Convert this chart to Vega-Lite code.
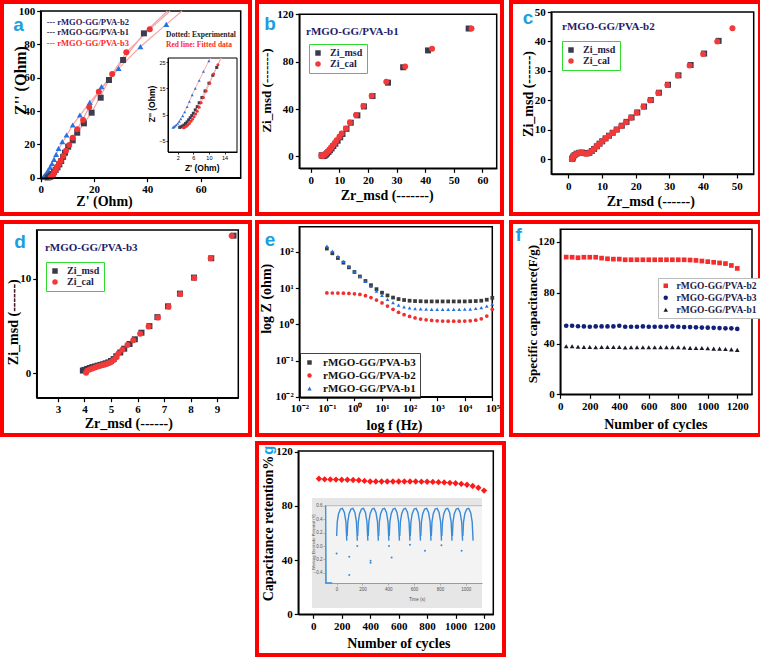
{
"$schema": "https://vega.github.io/schema/vega-lite/v6.json",
"padding": 0,
"background": "white",
"bounds": "flush",
"columns": 3,
"spacing": {"row": 8, "column": 7},
"config": {
  "view": {"stroke": null},
  "axis": {"domainColor": "#000", "domainWidth": 1.5, "tickColor": "#000", "tickWidth": 1.2, "tickSize": 4, "labelFont": "Liberation Serif", "labelFontWeight": "bold", "labelFontSize": 11, "labelColor": "#000", "labelPadding": 2, "titleFont": "Liberation Serif", "titleFontWeight": "bold", "titleFontSize": 14, "titleColor": "#000", "grid": false, "labelOverlap": false, "labelFlush": false, "titleBaseline": "middle", "titleAlign": "center"},
  "axisY": {"titleAngle": 270, "titleAlign": "center", "titleBaseline": "middle"}
},
"resolve": {"scale": {"color": "independent", "shape": "independent"}, "legend": {"color": "independent", "shape": "independent"}},
"datasets": {
  "a_main": [
    {"s":"b2","x":0.9,"y":0.2},{"s":"b2","x":1.2,"y":0.7},{"s":"b2","x":1.6,"y":1.6},{"s":"b2","x":2.2,"y":2.9},{"s":"b2","x":2.8,"y":4.4},{"s":"b2","x":3.5,"y":6.3},{"s":"b2","x":4.2,"y":8.5},{"s":"b2","x":5,"y":11},{"s":"b2","x":5.8,"y":14},{"s":"b2","x":6.7,"y":17.6},{"s":"b2","x":8.1,"y":21.6},{"s":"b2","x":9.7,"y":25.6},{"s":"b2","x":12,"y":31.6},{"s":"b2","x":14.7,"y":37.6},{"s":"b2","x":18.4,"y":45.2},{"s":"b2","x":22.8,"y":54.6},{"s":"b2","x":29.2,"y":65.6},{"s":"b2","x":37.4,"y":78.6},{"s":"b2","x":47.1,"y":92},
    {"s":"b1","x":2.6,"y":0.1},{"s":"b1","x":3.2,"y":0.6},{"s":"b1","x":3.8,"y":1.3},{"s":"b1","x":4.4,"y":2.2},{"s":"b1","x":5,"y":3.4},{"s":"b1","x":5.6,"y":4.6},{"s":"b1","x":6.3,"y":6.2},{"s":"b1","x":7,"y":8},{"s":"b1","x":7.7,"y":10},{"s":"b1","x":8.4,"y":12.5},{"s":"b1","x":9.1,"y":15},{"s":"b1","x":10.3,"y":18.6},{"s":"b1","x":12,"y":22.4},{"s":"b1","x":13.7,"y":27},{"s":"b1","x":16.2,"y":32.6},{"s":"b1","x":19.1,"y":39},{"s":"b1","x":22.5,"y":48},{"s":"b1","x":25.6,"y":58.6},{"s":"b1","x":30.9,"y":70.6},{"s":"b1","x":38.7,"y":86.6},
    {"s":"b3","x":3.8,"y":0.2},{"s":"b3","x":4.2,"y":0.7},{"s":"b3","x":4.6,"y":1.6},{"s":"b3","x":5,"y":2.8},{"s":"b3","x":5.5,"y":4.3},{"s":"b3","x":6,"y":6},{"s":"b3","x":6.8,"y":8},{"s":"b3","x":7.5,"y":10},{"s":"b3","x":8.5,"y":13},{"s":"b3","x":9.5,"y":16.2},{"s":"b3","x":10.7,"y":19.6},{"s":"b3","x":12,"y":24},{"s":"b3","x":13.7,"y":29},{"s":"b3","x":15.9,"y":34.6},{"s":"b3","x":18.2,"y":42.2},{"s":"b3","x":21.8,"y":51.6},{"s":"b3","x":26.8,"y":62.2},{"s":"b3","x":32.1,"y":75.2},{"s":"b3","x":40.9,"y":89}
  ],
  "a_fit": [
    {"s":"b2","x":0.8,"y":0},{"s":"b2","x":2,"y":2.6},{"s":"b2","x":4,"y":8},{"s":"b2","x":7,"y":18},{"s":"b2","x":12,"y":31.6},{"s":"b2","x":18.4,"y":45.2},{"s":"b2","x":29.2,"y":65.6},{"s":"b2","x":37.4,"y":78.6},{"s":"b2","x":47.1,"y":92},{"s":"b2","x":53,"y":100},
    {"s":"b1","x":2.5,"y":0},{"s":"b1","x":4,"y":1.7},{"s":"b1","x":6,"y":5.6},{"s":"b1","x":9,"y":14.5},{"s":"b1","x":13.7,"y":27},{"s":"b1","x":19.1,"y":39},{"s":"b1","x":25.6,"y":58.6},{"s":"b1","x":30.9,"y":70.6},{"s":"b1","x":38.7,"y":86.6},{"s":"b1","x":47.5,"y":100},
    {"s":"b3","x":3.7,"y":0},{"s":"b3","x":5,"y":2.8},{"s":"b3","x":7,"y":8.5},{"s":"b3","x":10,"y":17.5},{"s":"b3","x":13.7,"y":29},{"s":"b3","x":18.2,"y":42.2},{"s":"b3","x":21.8,"y":51.6},{"s":"b3","x":26.8,"y":62.2},{"s":"b3","x":32.1,"y":75.2},{"s":"b3","x":40.9,"y":89},{"s":"b3","x":48.5,"y":100}
  ],
  "a_ins": [
    {"s":"b2","x":0.8,"y":0.1},{"s":"b2","x":1,"y":0.3},{"s":"b2","x":1.3,"y":0.6},{"s":"b2","x":1.6,"y":1},{"s":"b2","x":2,"y":1.6},{"s":"b2","x":2.4,"y":2.4},{"s":"b2","x":2.8,"y":3.3},{"s":"b2","x":3.3,"y":4.5},{"s":"b2","x":3.8,"y":6},{"s":"b2","x":4.4,"y":8},{"s":"b2","x":5,"y":10},{"s":"b2","x":5.7,"y":12.5},{"s":"b2","x":6.5,"y":15},{"s":"b2","x":7.5,"y":18},{"s":"b2","x":8.6,"y":21.5},{"s":"b2","x":10,"y":25.5},
    {"s":"b1","x":2.5,"y":0.1},{"s":"b1","x":2.8,"y":0.3},{"s":"b1","x":3.2,"y":0.6},{"s":"b1","x":3.6,"y":1},{"s":"b1","x":4,"y":1.6},{"s":"b1","x":4.4,"y":2.2},{"s":"b1","x":4.8,"y":3},{"s":"b1","x":5.2,"y":3.8},{"s":"b1","x":5.6,"y":4.6},{"s":"b1","x":6,"y":5.5},{"s":"b1","x":6.5,"y":6.8},{"s":"b1","x":7,"y":8},{"s":"b1","x":7.5,"y":9.5},{"s":"b1","x":8.2,"y":11.5},{"s":"b1","x":9,"y":14},{"s":"b1","x":10,"y":17},{"s":"b1","x":11,"y":20},{"s":"b1","x":12,"y":23},
    {"s":"b3","x":3.5,"y":0},{"s":"b3","x":3.8,"y":0.2},{"s":"b3","x":4.2,"y":0.5},{"s":"b3","x":4.6,"y":1},{"s":"b3","x":5,"y":1.6},{"s":"b3","x":5.4,"y":2.4},{"s":"b3","x":5.8,"y":3.2},{"s":"b3","x":6.2,"y":4.2},{"s":"b3","x":6.6,"y":5.2},{"s":"b3","x":7,"y":6.3},{"s":"b3","x":7.5,"y":7.8},{"s":"b3","x":8,"y":9.5},{"s":"b3","x":8.6,"y":11.5},{"s":"b3","x":9.3,"y":14},{"s":"b3","x":10.2,"y":17},{"s":"b3","x":11.2,"y":20.5},{"s":"b3","x":12.3,"y":24}
  ],
  "a_insfit": [
    {"s":"b2","x":0.6,"y":0},{"s":"b2","x":2,"y":1.6},{"s":"b2","x":4,"y":6.6},{"s":"b2","x":6,"y":13.5},{"s":"b2","x":8,"y":19.6},{"s":"b2","x":10,"y":25.5},{"s":"b2","x":10.4,"y":26.6},
    {"s":"b1","x":2.3,"y":0},{"s":"b1","x":4,"y":1.6},{"s":"b1","x":6,"y":5.5},{"s":"b1","x":8,"y":11},{"s":"b1","x":10,"y":17},{"s":"b1","x":12,"y":23},{"s":"b1","x":13.1,"y":26.6},
    {"s":"b3","x":3.3,"y":0},{"s":"b3","x":5,"y":1.6},{"s":"b3","x":7,"y":6.3},{"s":"b3","x":9,"y":13},{"s":"b3","x":11,"y":19.8},{"s":"b3","x":12.3,"y":24},{"s":"b3","x":13.1,"y":26.6}
  ],
  "b": [
    {"s":"Zi_msd","x":3.8,"y":1},{"s":"Zi_msd","x":4.1,"y":0.4},{"s":"Zi_msd","x":4.5,"y":0.3},{"s":"Zi_msd","x":4.9,"y":0.8},{"s":"Zi_msd","x":5.3,"y":1.6},{"s":"Zi_msd","x":5.7,"y":2.6},{"s":"Zi_msd","x":6.2,"y":3.8},{"s":"Zi_msd","x":6.7,"y":5.2},{"s":"Zi_msd","x":7.3,"y":6.8},{"s":"Zi_msd","x":7.9,"y":8.8},{"s":"Zi_msd","x":8.6,"y":10.8},{"s":"Zi_msd","x":9.4,"y":13.3},{"s":"Zi_msd","x":10.3,"y":16.2},{"s":"Zi_msd","x":11.1,"y":19},{"s":"Zi_msd","x":12.5,"y":23.3},{"s":"Zi_msd","x":14,"y":28.5},{"s":"Zi_msd","x":16.3,"y":34.7},{"s":"Zi_msd","x":18.6,"y":42.2},{"s":"Zi_msd","x":21.6,"y":51},{"s":"Zi_msd","x":27,"y":62.3},{"s":"Zi_msd","x":32.3,"y":75.3},{"s":"Zi_msd","x":41,"y":89.5},{"s":"Zi_msd","x":55.2,"y":108},
    {"s":"Zi_cal","x":3.7,"y":0.8},{"s":"Zi_cal","x":4,"y":0.5},{"s":"Zi_cal","x":4.3,"y":0.5},{"s":"Zi_cal","x":4.6,"y":1},{"s":"Zi_cal","x":5,"y":1.8},{"s":"Zi_cal","x":5.4,"y":2.8},{"s":"Zi_cal","x":5.9,"y":4},{"s":"Zi_cal","x":6.4,"y":5.3},{"s":"Zi_cal","x":7,"y":7},{"s":"Zi_cal","x":7.6,"y":9},{"s":"Zi_cal","x":8.3,"y":11},{"s":"Zi_cal","x":9,"y":13.5},{"s":"Zi_cal","x":10,"y":16.5},{"s":"Zi_cal","x":10.8,"y":19.3},{"s":"Zi_cal","x":12.3,"y":23.5},{"s":"Zi_cal","x":13.7,"y":28.7},{"s":"Zi_cal","x":15.8,"y":34.9},{"s":"Zi_cal","x":18.4,"y":42.5},{"s":"Zi_cal","x":21.3,"y":51.3},{"s":"Zi_cal","x":26.4,"y":63},{"s":"Zi_cal","x":33,"y":76},{"s":"Zi_cal","x":42.4,"y":91},{"s":"Zi_cal","x":56.2,"y":108.1}
  ],
  "c": [
    {"s":"Zi_msd","x":1.2,"y":0.1},{"s":"Zi_msd","x":1.3,"y":0.4},{"s":"Zi_msd","x":1.5,"y":0.9},{"s":"Zi_msd","x":1.9,"y":1.4},{"s":"Zi_msd","x":2.5,"y":1.9},{"s":"Zi_msd","x":3.3,"y":2.2},{"s":"Zi_msd","x":4.1,"y":2.3},{"s":"Zi_msd","x":4.9,"y":2.1},{"s":"Zi_msd","x":5.6,"y":2},{"s":"Zi_msd","x":6.3,"y":2.2},{"s":"Zi_msd","x":7,"y":2.8},{"s":"Zi_msd","x":7.7,"y":3.5},{"s":"Zi_msd","x":8.5,"y":4.4},{"s":"Zi_msd","x":9.3,"y":5.3},{"s":"Zi_msd","x":10.1,"y":6.1},{"s":"Zi_msd","x":11.1,"y":7.1},{"s":"Zi_msd","x":12.1,"y":8},{"s":"Zi_msd","x":13.2,"y":9},{"s":"Zi_msd","x":14.4,"y":10.1},{"s":"Zi_msd","x":15.9,"y":11.4},{"s":"Zi_msd","x":17.3,"y":12.7},{"s":"Zi_msd","x":18.8,"y":14.2},{"s":"Zi_msd","x":20.5,"y":15.9},{"s":"Zi_msd","x":22.5,"y":17.9},{"s":"Zi_msd","x":24.5,"y":20.1},{"s":"Zi_msd","x":26.9,"y":22.6},{"s":"Zi_msd","x":29.6,"y":25.3},{"s":"Zi_msd","x":32.7,"y":28.5},{"s":"Zi_msd","x":36.3,"y":32},{"s":"Zi_msd","x":40.3,"y":35.9},{"s":"Zi_msd","x":44.6,"y":40.2},
    {"s":"Zi_cal","x":1.1,"y":0},{"s":"Zi_cal","x":1.2,"y":0.3},{"s":"Zi_cal","x":1.4,"y":0.8},{"s":"Zi_cal","x":1.8,"y":1.3},{"s":"Zi_cal","x":2.4,"y":1.8},{"s":"Zi_cal","x":3.2,"y":2.1},{"s":"Zi_cal","x":4,"y":2.2},{"s":"Zi_cal","x":4.8,"y":2},{"s":"Zi_cal","x":5.5,"y":1.9},{"s":"Zi_cal","x":6.2,"y":2.1},{"s":"Zi_cal","x":6.9,"y":2.7},{"s":"Zi_cal","x":7.6,"y":3.4},{"s":"Zi_cal","x":8.4,"y":4.3},{"s":"Zi_cal","x":9.2,"y":5.2},{"s":"Zi_cal","x":10,"y":6},{"s":"Zi_cal","x":11,"y":7},{"s":"Zi_cal","x":12,"y":7.9},{"s":"Zi_cal","x":13.1,"y":8.9},{"s":"Zi_cal","x":14.3,"y":10},{"s":"Zi_cal","x":15.7,"y":11.3},{"s":"Zi_cal","x":17.1,"y":12.6},{"s":"Zi_cal","x":18.6,"y":14.1},{"s":"Zi_cal","x":20.3,"y":15.8},{"s":"Zi_cal","x":22.3,"y":17.8},{"s":"Zi_cal","x":24.3,"y":20},{"s":"Zi_cal","x":26.7,"y":22.5},{"s":"Zi_cal","x":29.4,"y":25.2},{"s":"Zi_cal","x":32.5,"y":28.4},{"s":"Zi_cal","x":36,"y":31.8},{"s":"Zi_cal","x":40,"y":35.7},{"s":"Zi_cal","x":44.2,"y":40},{"s":"Zi_cal","x":48.7,"y":44.5}
  ],
  "d": [
    {"s":"Zi_msd","x":3.94,"y":0.28},{"s":"Zi_msd","x":4.0,"y":0.35},{"s":"Zi_msd","x":4.1,"y":0.45},{"s":"Zi_msd","x":4.2,"y":0.55},{"s":"Zi_msd","x":4.3,"y":0.65},{"s":"Zi_msd","x":4.4,"y":0.72},{"s":"Zi_msd","x":4.5,"y":0.8},{"s":"Zi_msd","x":4.6,"y":0.88},{"s":"Zi_msd","x":4.7,"y":0.95},{"s":"Zi_msd","x":4.8,"y":1.05},{"s":"Zi_msd","x":4.9,"y":1.15},{"s":"Zi_msd","x":5.0,"y":1.3},{"s":"Zi_msd","x":5.1,"y":1.5},{"s":"Zi_msd","x":5.2,"y":1.8},{"s":"Zi_msd","x":5.35,"y":2.2},{"s":"Zi_msd","x":5.5,"y":2.6},{"s":"Zi_msd","x":5.7,"y":3.1},{"s":"Zi_msd","x":5.9,"y":3.6},{"s":"Zi_msd","x":6.15,"y":4.3},{"s":"Zi_msd","x":6.45,"y":5.0},{"s":"Zi_msd","x":6.75,"y":5.95},{"s":"Zi_msd","x":7.15,"y":7.1},{"s":"Zi_msd","x":7.6,"y":8.45},{"s":"Zi_msd","x":8.13,"y":10.15},{"s":"Zi_msd","x":8.78,"y":12.2},{"s":"Zi_msd","x":9.62,"y":14.6},
    {"s":"Zi_cal","x":4.06,"y":0.05},{"s":"Zi_cal","x":4.1,"y":0.25},{"s":"Zi_cal","x":4.2,"y":0.4},{"s":"Zi_cal","x":4.3,"y":0.5},{"s":"Zi_cal","x":4.4,"y":0.6},{"s":"Zi_cal","x":4.5,"y":0.7},{"s":"Zi_cal","x":4.6,"y":0.78},{"s":"Zi_cal","x":4.7,"y":0.86},{"s":"Zi_cal","x":4.8,"y":0.95},{"s":"Zi_cal","x":4.9,"y":1.05},{"s":"Zi_cal","x":5.0,"y":1.2},{"s":"Zi_cal","x":5.1,"y":1.4},{"s":"Zi_cal","x":5.2,"y":1.7},{"s":"Zi_cal","x":5.28,"y":2.1},{"s":"Zi_cal","x":5.43,"y":2.5},{"s":"Zi_cal","x":5.62,"y":3},{"s":"Zi_cal","x":5.84,"y":3.5},{"s":"Zi_cal","x":6.1,"y":4.2},{"s":"Zi_cal","x":6.42,"y":4.96},{"s":"Zi_cal","x":6.77,"y":5.9},{"s":"Zi_cal","x":7.17,"y":7.05},{"s":"Zi_cal","x":7.61,"y":8.4},{"s":"Zi_cal","x":8.14,"y":10.1},{"s":"Zi_cal","x":8.76,"y":12.2},{"s":"Zi_cal","x":9.55,"y":14.6}
  ],
  "e": [
    {"s":"b3","x":0.1,"y":124.1},{"s":"b3","x":0.158,"y":92.1},{"s":"b3","x":0.251,"y":68.1},{"s":"b3","x":0.398,"y":50.6},{"s":"b3","x":0.631,"y":37.6},{"s":"b3","x":1,"y":28},{"s":"b3","x":1.58,"y":21},{"s":"b3","x":2.51,"y":15.8},{"s":"b3","x":3.98,"y":12.1},{"s":"b3","x":6.31,"y":9.4},{"s":"b3","x":10,"y":7.5},{"s":"b3","x":15.8,"y":6.3},{"s":"b3","x":25.1,"y":5.5},{"s":"b3","x":39.8,"y":5},{"s":"b3","x":63.1,"y":4.7},{"s":"b3","x":100,"y":4.5},{"s":"b3","x":158,"y":4.4},{"s":"b3","x":251,"y":4.35},{"s":"b3","x":398,"y":4.3},{"s":"b3","x":631,"y":4.3},{"s":"b3","x":1000,"y":4.3},{"s":"b3","x":1580,"y":4.3},{"s":"b3","x":2510,"y":4.3},{"s":"b3","x":3980,"y":4.3},{"s":"b3","x":6310,"y":4.3},{"s":"b3","x":10000,"y":4.3},{"s":"b3","x":15800,"y":4.35},{"s":"b3","x":25100,"y":4.4},{"s":"b3","x":39800,"y":4.5},{"s":"b3","x":63100,"y":4.8},{"s":"b3","x":100000,"y":5.4},
    {"s":"b2","x":0.1,"y":7.4},{"s":"b2","x":0.158,"y":7.35},{"s":"b2","x":0.251,"y":7.3},{"s":"b2","x":0.398,"y":7.25},{"s":"b2","x":0.631,"y":7.15},{"s":"b2","x":1,"y":7},{"s":"b2","x":1.58,"y":6.7},{"s":"b2","x":2.51,"y":6.2},{"s":"b2","x":3.98,"y":5.5},{"s":"b2","x":6.31,"y":4.7},{"s":"b2","x":10,"y":3.9},{"s":"b2","x":15.8,"y":3.2},{"s":"b2","x":25.1,"y":2.6},{"s":"b2","x":39.8,"y":2.15},{"s":"b2","x":63.1,"y":1.85},{"s":"b2","x":100,"y":1.65},{"s":"b2","x":158,"y":1.5},{"s":"b2","x":251,"y":1.4},{"s":"b2","x":398,"y":1.33},{"s":"b2","x":631,"y":1.28},{"s":"b2","x":1000,"y":1.25},{"s":"b2","x":1580,"y":1.23},{"s":"b2","x":2510,"y":1.22},{"s":"b2","x":3980,"y":1.22},{"s":"b2","x":6310,"y":1.22},{"s":"b2","x":10000,"y":1.23},{"s":"b2","x":15800,"y":1.25},{"s":"b2","x":25100,"y":1.3},{"s":"b2","x":39800,"y":1.42},{"s":"b2","x":63100,"y":1.7},{"s":"b2","x":100000,"y":2.6},
    {"s":"b1","x":0.1,"y":145},{"s":"b1","x":0.158,"y":105},{"s":"b1","x":0.251,"y":76},{"s":"b1","x":0.398,"y":55.1},{"s":"b1","x":0.631,"y":39.9},{"s":"b1","x":1,"y":28.9},{"s":"b1","x":1.58,"y":21.1},{"s":"b1","x":2.51,"y":15.3},{"s":"b1","x":3.98,"y":11.2},{"s":"b1","x":6.31,"y":8.3},{"s":"b1","x":10,"y":6.3},{"s":"b1","x":15.8,"y":4.9},{"s":"b1","x":25.1,"y":4},{"s":"b1","x":39.8,"y":3.4},{"s":"b1","x":63.1,"y":3.06},{"s":"b1","x":100,"y":2.84},{"s":"b1","x":158,"y":2.73},{"s":"b1","x":251,"y":2.67},{"s":"b1","x":398,"y":2.63},{"s":"b1","x":631,"y":2.61},{"s":"b1","x":1000,"y":2.6},{"s":"b1","x":1580,"y":2.6},{"s":"b1","x":2510,"y":2.6},{"s":"b1","x":3980,"y":2.6},{"s":"b1","x":6310,"y":2.6},{"s":"b1","x":10000,"y":2.62},{"s":"b1","x":15800,"y":2.65},{"s":"b1","x":25100,"y":2.75},{"s":"b1","x":39800,"y":2.9},{"s":"b1","x":63100,"y":3.2},{"s":"b1","x":100000,"y":3.6}
  ],
  "f": [
    {"s":"b2","x":40,"y":108.1},{"s":"b2","x":80,"y":108},{"s":"b2","x":120,"y":107.6},{"s":"b2","x":160,"y":108},{"s":"b2","x":200,"y":108},{"s":"b2","x":240,"y":108},{"s":"b2","x":280,"y":107.3},{"s":"b2","x":320,"y":106.8},{"s":"b2","x":360,"y":106.5},{"s":"b2","x":400,"y":106.5},{"s":"b2","x":440,"y":106},{"s":"b2","x":480,"y":106},{"s":"b2","x":520,"y":106},{"s":"b2","x":560,"y":106},{"s":"b2","x":600,"y":106},{"s":"b2","x":640,"y":106},{"s":"b2","x":680,"y":106},{"s":"b2","x":720,"y":106},{"s":"b2","x":760,"y":106},{"s":"b2","x":800,"y":106},{"s":"b2","x":840,"y":106},{"s":"b2","x":880,"y":105.8},{"s":"b2","x":920,"y":105.5},{"s":"b2","x":960,"y":105},{"s":"b2","x":1000,"y":104.5},{"s":"b2","x":1040,"y":104},{"s":"b2","x":1080,"y":103.5},{"s":"b2","x":1120,"y":103},{"s":"b2","x":1160,"y":101.5},{"s":"b2","x":1200,"y":99.2},
    {"s":"b3","x":40,"y":54},{"s":"b3","x":80,"y":54},{"s":"b3","x":120,"y":53.6},{"s":"b3","x":160,"y":53.5},{"s":"b3","x":200,"y":53.2},{"s":"b3","x":240,"y":53.5},{"s":"b3","x":280,"y":53.5},{"s":"b3","x":320,"y":53.5},{"s":"b3","x":360,"y":53.5},{"s":"b3","x":400,"y":54},{"s":"b3","x":440,"y":53.2},{"s":"b3","x":480,"y":53.2},{"s":"b3","x":520,"y":53.2},{"s":"b3","x":560,"y":53.5},{"s":"b3","x":600,"y":53.2},{"s":"b3","x":640,"y":53.2},{"s":"b3","x":680,"y":53.2},{"s":"b3","x":720,"y":53.2},{"s":"b3","x":760,"y":53.5},{"s":"b3","x":800,"y":53.2},{"s":"b3","x":840,"y":53},{"s":"b3","x":880,"y":53},{"s":"b3","x":920,"y":52.8},{"s":"b3","x":960,"y":52.6},{"s":"b3","x":1000,"y":52.5},{"s":"b3","x":1040,"y":52.4},{"s":"b3","x":1080,"y":52.2},{"s":"b3","x":1120,"y":52},{"s":"b3","x":1160,"y":52},{"s":"b3","x":1200,"y":51.5},
    {"s":"b1","x":40,"y":37.8},{"s":"b1","x":80,"y":37.8},{"s":"b1","x":120,"y":37.4},{"s":"b1","x":160,"y":37.2},{"s":"b1","x":200,"y":37.2},{"s":"b1","x":240,"y":37},{"s":"b1","x":280,"y":37.2},{"s":"b1","x":320,"y":37.2},{"s":"b1","x":360,"y":37.2},{"s":"b1","x":400,"y":37.2},{"s":"b1","x":440,"y":36.8},{"s":"b1","x":480,"y":37},{"s":"b1","x":520,"y":37},{"s":"b1","x":560,"y":37},{"s":"b1","x":600,"y":37},{"s":"b1","x":640,"y":37},{"s":"b1","x":680,"y":37},{"s":"b1","x":720,"y":37},{"s":"b1","x":760,"y":37},{"s":"b1","x":800,"y":37},{"s":"b1","x":840,"y":36.8},{"s":"b1","x":880,"y":36.6},{"s":"b1","x":920,"y":36.5},{"s":"b1","x":960,"y":36.5},{"s":"b1","x":1000,"y":36.3},{"s":"b1","x":1040,"y":36},{"s":"b1","x":1080,"y":36},{"s":"b1","x":1120,"y":35.7},{"s":"b1","x":1160,"y":35.4},{"s":"b1","x":1200,"y":35}
  ],
  "g": [
    {"x":40,"y":100},{"x":80,"y":99.6},{"x":120,"y":99.5},{"x":160,"y":99.4},{"x":200,"y":99.3},{"x":240,"y":99.3},{"x":280,"y":99.1},{"x":320,"y":98.9},{"x":360,"y":98.4},{"x":400,"y":98},{"x":440,"y":98},{"x":480,"y":98},{"x":520,"y":98},{"x":560,"y":98},{"x":600,"y":98},{"x":640,"y":98},{"x":680,"y":98},{"x":720,"y":98},{"x":760,"y":97.9},{"x":800,"y":97.8},{"x":840,"y":97.7},{"x":880,"y":97.5},{"x":920,"y":97.3},{"x":960,"y":97},{"x":1000,"y":96.7},{"x":1040,"y":96.2},{"x":1080,"y":95.6},{"x":1120,"y":94.7},{"x":1160,"y":93.4},{"x":1200,"y":91.3}
  ],
  "g_ins": [
    {"k":-1,"x":-85,"y":0.6},{"k":-1,"x":-84,"y":0.2},{"k":-1,"x":-83,"y":-0.2},{"k":-1,"x":-82,"y":-0.55},{"k":-1,"x":-34,"y":-0.55},
    {"k":0,"x":0,"y":0.15},{"k":0,"x":5,"y":0.36},{"k":0,"x":15,"y":0.48},{"k":0,"x":30,"y":0.55},{"k":0,"x":45,"y":0.56},{"k":0,"x":60,"y":0.5},{"k":0,"x":72,"y":0.36},{"k":0,"x":79,"y":0.08},
    {"k":1,"x":81.5,"y":0.15},{"k":1,"x":86.5,"y":0.36},{"k":1,"x":96.5,"y":0.48},{"k":1,"x":111.5,"y":0.55},{"k":1,"x":126.5,"y":0.56},{"k":1,"x":141.5,"y":0.5},{"k":1,"x":153.5,"y":0.36},{"k":1,"x":160.5,"y":0.08},
    {"k":2,"x":163,"y":0.15},{"k":2,"x":168,"y":0.36},{"k":2,"x":178,"y":0.48},{"k":2,"x":193,"y":0.55},{"k":2,"x":208,"y":0.56},{"k":2,"x":223,"y":0.5},{"k":2,"x":235,"y":0.36},{"k":2,"x":242,"y":0.08},
    {"k":3,"x":244.5,"y":0.15},{"k":3,"x":249.5,"y":0.36},{"k":3,"x":259.5,"y":0.48},{"k":3,"x":274.5,"y":0.55},{"k":3,"x":289.5,"y":0.56},{"k":3,"x":304.5,"y":0.5},{"k":3,"x":316.5,"y":0.36},{"k":3,"x":323.5,"y":0.08},
    {"k":4,"x":326,"y":0.15},{"k":4,"x":331,"y":0.36},{"k":4,"x":341,"y":0.48},{"k":4,"x":356,"y":0.55},{"k":4,"x":371,"y":0.56},{"k":4,"x":386,"y":0.5},{"k":4,"x":398,"y":0.36},{"k":4,"x":405,"y":0.08},
    {"k":5,"x":407.5,"y":0.15},{"k":5,"x":412.5,"y":0.36},{"k":5,"x":422.5,"y":0.48},{"k":5,"x":437.5,"y":0.55},{"k":5,"x":452.5,"y":0.56},{"k":5,"x":467.5,"y":0.5},{"k":5,"x":479.5,"y":0.36},{"k":5,"x":486.5,"y":0.08},
    {"k":6,"x":489,"y":0.15},{"k":6,"x":494,"y":0.36},{"k":6,"x":504,"y":0.48},{"k":6,"x":519,"y":0.55},{"k":6,"x":534,"y":0.56},{"k":6,"x":549,"y":0.5},{"k":6,"x":561,"y":0.36},{"k":6,"x":568,"y":0.08},
    {"k":7,"x":570.5,"y":0.15},{"k":7,"x":575.5,"y":0.36},{"k":7,"x":585.5,"y":0.48},{"k":7,"x":600.5,"y":0.55},{"k":7,"x":615.5,"y":0.56},{"k":7,"x":630.5,"y":0.5},{"k":7,"x":642.5,"y":0.36},{"k":7,"x":649.5,"y":0.08},
    {"k":8,"x":652,"y":0.15},{"k":8,"x":657,"y":0.36},{"k":8,"x":667,"y":0.48},{"k":8,"x":682,"y":0.55},{"k":8,"x":697,"y":0.56},{"k":8,"x":712,"y":0.5},{"k":8,"x":724,"y":0.36},{"k":8,"x":731,"y":0.08},
    {"k":9,"x":733.5,"y":0.15},{"k":9,"x":738.5,"y":0.36},{"k":9,"x":748.5,"y":0.48},{"k":9,"x":763.5,"y":0.55},{"k":9,"x":778.5,"y":0.56},{"k":9,"x":793.5,"y":0.5},{"k":9,"x":805.5,"y":0.36},{"k":9,"x":812.5,"y":0.08},
    {"k":10,"x":815,"y":0.15},{"k":10,"x":820,"y":0.36},{"k":10,"x":830,"y":0.48},{"k":10,"x":845,"y":0.55},{"k":10,"x":860,"y":0.56},{"k":10,"x":875,"y":0.5},{"k":10,"x":887,"y":0.36},{"k":10,"x":894,"y":0.08},
    {"k":11,"x":896.5,"y":0.15},{"k":11,"x":901.5,"y":0.36},{"k":11,"x":911.5,"y":0.48},{"k":11,"x":926.5,"y":0.55},{"k":11,"x":941.5,"y":0.56},{"k":11,"x":956.5,"y":0.5},{"k":11,"x":968.5,"y":0.36},{"k":11,"x":975.5,"y":0.08},
    {"k":12,"x":978,"y":0.15},{"k":12,"x":983,"y":0.36},{"k":12,"x":993,"y":0.48},{"k":12,"x":1008,"y":0.55},{"k":12,"x":1023,"y":0.56},{"k":12,"x":1038,"y":0.5},{"k":12,"x":1050,"y":0.36},{"k":12,"x":1057,"y":0.08}
  ],
  "g_stray": [
    {"x":0,"y":-0.11},{"x":98,"y":-0.16},{"x":98,"y":-0.43},{"x":263,"y":-0.22},{"x":263,"y":-0.25},{"x":426,"y":-0.17},{"x":684,"y":-0.07},{"x":968,"y":-0.07},{"x":160,"y":0.0},{"x":405,"y":0.0},{"x":568,"y":0.02},{"x":812,"y":0.01}
  ]
},
"concat": [
  {"width": 248, "height": 212,
   "view": {"stroke": "#ff0000", "strokeWidth": 4},
   "resolve": {"scale": {"x": "independent", "y": "independent"}},
   "layer": [
    {"layer": [
      {"data": {"values": [{}]}, "mark": {"type": "rect", "fill": "transparent", "stroke": "#000", "strokeWidth": 1.5},
       "encoding": {
        "x": {"datum": 0, "type": "quantitative", "scale": {"domain": [0, 75], "range": [38.7, 238.7], "nice": false, "zero": false},
              "axis": {"zindex": 1, "orient": "bottom", "offset": -36.3, "values": [0, 20, 40, 60], "title": "Z' (Ohm)", "titleX": 102, "titleY": 24}},
        "x2": {"datum": 75},
        "y": {"datum": 0, "type": "quantitative", "scale": {"domain": [0, 100], "range": [175.7, 9], "nice": false, "zero": false},
              "axis": {"zindex": 1, "orient": "left", "offset": -38.7, "values": [0, 20, 40, 60, 80, 100], "title": "Z'' (Ohm)", "titleX": -20.7, "titleY": 78, "titleAlign": "center", "titleAngle": 270, "titleFontSize": 16}},
        "y2": {"datum": 100}}},
      {"data": {"name": "a_fit"}, "mark": {"type": "line", "color": "#f5a3a3", "strokeWidth": 1.2},
       "encoding": {"x": {"field": "x", "type": "quantitative"}, "y": {"field": "y", "type": "quantitative"}, "detail": {"field": "s"}}},
      {"data": {"name": "a_main"}, "mark": {"type": "point", "filled": true, "size": 36, "opacity": 1},
       "encoding": {"x": {"field": "x", "type": "quantitative"}, "y": {"field": "y", "type": "quantitative"},
        "color": {"field": "s", "type": "nominal", "scale": {"domain": ["b2", "b1", "b3"], "range": ["#2a72e0", "#3c3c4c", "#f03232"]}, "legend": null},
        "shape": {"field": "s", "type": "nominal", "scale": {"domain": ["b2", "b1", "b3"], "range": ["triangle-up", "square", "circle"]}, "legend": null}}},
      {"data": {"values": [{}]}, "mark": {"type": "text", "text": "a", "font": "Liberation Sans", "fontWeight": "bold", "fontSize": 19, "color": "#1a9fe0", "align": "center", "baseline": "middle"},
       "encoding": {"x": {"datum": -8.3, "type": "quantitative"}, "y": {"datum": 91.6, "type": "quantitative"}}},
      {"data": {"values": [{}]}, "mark": {"type": "text", "text": "--- rMGO-GG/PVA-b2", "font": "Liberation Serif", "fontWeight": "bold", "fontSize": 8.5, "color": "#22226a", "align": "left", "baseline": "middle"},
       "encoding": {"x": {"datum": 2.25, "type": "quantitative"}, "y": {"datum": 93.6, "type": "quantitative"}}},
      {"data": {"values": [{}]}, "mark": {"type": "text", "text": "--- rMGO-GG/PVA-b1", "font": "Liberation Serif", "fontWeight": "bold", "fontSize": 8.5, "color": "#22224a", "align": "left", "baseline": "middle"},
       "encoding": {"x": {"datum": 2.25, "type": "quantitative"}, "y": {"datum": 87.2, "type": "quantitative"}}},
      {"data": {"values": [{}]}, "mark": {"type": "text", "text": "--- rMGO-GG/PVA-b3", "font": "Liberation Serif", "fontWeight": "bold", "fontSize": 8.5, "color": "#ff2a2a", "align": "left", "baseline": "middle"},
       "encoding": {"x": {"datum": 2.25, "type": "quantitative"}, "y": {"datum": 81, "type": "quantitative"}}},
      {"data": {"values": [{}]}, "mark": {"type": "text", "text": "Dotted: Experimental", "font": "Liberation Serif", "fontWeight": "bold", "fontSize": 7.5, "color": "#222222", "align": "left", "baseline": "middle"},
       "encoding": {"x": {"datum": 47, "type": "quantitative"}, "y": {"datum": 85.6, "type": "quantitative"}}},
      {"data": {"values": [{}]}, "mark": {"type": "text", "text": "Red line: Fitted data", "font": "Liberation Serif", "fontWeight": "bold", "fontSize": 7.5, "color": "#ff2a2a", "align": "left", "baseline": "middle"},
       "encoding": {"x": {"datum": 47, "type": "quantitative"}, "y": {"datum": 79.6, "type": "quantitative"}}}
    ]},
    {"layer": [
      {"data": {"values": [{}]}, "mark": {"type": "rect", "fill": "transparent", "stroke": "#000", "strokeWidth": 1},
       "encoding": {
        "x": {"datum": -0.5, "type": "quantitative", "scale": {"domain": [-0.5, 17.2], "range": [166, 235], "nice": false, "zero": false},
              "axis": {"zindex": 1, "orient": "bottom", "offset": -62, "values": [2, 4, 6, 8, 10, 12, 14, 16], "labelFont": "Liberation Sans", "labelFontWeight": "normal", "labelFontSize": 5.5, "tickSize": 2, "tickWidth": 0.8, "domainWidth": 1, "labelPadding": 1, "title": "Z' (Ohm)", "titleFont": "Liberation Sans", "titleFontSize": 8.5, "titleX": 199.7, "titleY": 15}},
        "x2": {"datum": 17.2},
        "y": {"datum": -9.3, "type": "quantitative", "scale": {"domain": [-9.3, 26.6], "range": [150, 56], "nice": false, "zero": false},
              "axis": {"zindex": 1, "orient": "left", "offset": -166, "values": [-5, 0, 5, 10, 15, 20, 25], "labelFont": "Liberation Sans", "labelFontWeight": "normal", "labelFontSize": 5.5, "tickSize": 2, "tickWidth": 0.8, "domainWidth": 1, "labelPadding": 1, "title": "Z'' (Ohm)", "titleFont": "Liberation Sans", "titleFontSize": 8.5, "titleX": -16.3, "titleY": 101.5, "titleAlign": "center", "titleAngle": 270}},
        "y2": {"datum": 26.6}}},
      {"data": {"name": "a_insfit"}, "mark": {"type": "line", "color": "#f7b0b0", "strokeWidth": 1},
       "encoding": {"x": {"field": "x", "type": "quantitative"}, "y": {"field": "y", "type": "quantitative"}, "detail": {"field": "s"}}},
      {"data": {"name": "a_ins"}, "mark": {"type": "point", "filled": true, "size": 9, "opacity": 1},
       "encoding": {"x": {"field": "x", "type": "quantitative"}, "y": {"field": "y", "type": "quantitative"},
        "color": {"field": "s", "type": "nominal", "scale": {"domain": ["b2", "b1", "b3"], "range": ["#2a72e0", "#3c3c4c", "#f03232"]}, "legend": null},
        "shape": {"field": "s", "type": "nominal", "scale": {"domain": ["b2", "b1", "b3"], "range": ["triangle-up", "square", "circle"]}, "legend": null}}}
    ]}
   ]},
  {"width": 245, "height": 212,
   "view": {"stroke": "#ff0000", "strokeWidth": 4},
   "layer": [
    {"data": {"values": [{}]}, "mark": {"type": "rect", "fill": "transparent", "stroke": "#000", "strokeWidth": 1.5},
     "encoding": {
      "x": {"datum": -4, "type": "quantitative", "scale": {"domain": [-4, 65], "range": [42.3, 239.7], "nice": false, "zero": false},
            "axis": {"zindex": 1, "orient": "bottom", "offset": -45.7, "values": [0, 10, 20, 30, 40, 50, 60], "title": "Zr_msd (-------)", "titleX": 129.7, "titleY": 26.7}},
      "x2": {"datum": 65},
      "y": {"datum": -10, "type": "quantitative", "scale": {"domain": [-10, 120], "range": [166.3, 12.3], "nice": false, "zero": false},
            "axis": {"zindex": 1, "orient": "left", "offset": -42.3, "values": [0, 20, 40, 60, 80, 100, 120], "title": "Zi_msd (-------)", "titleX": -32.6, "titleY": 88, "titleAlign": "center", "titleAngle": 270, "titleFontSize": 13}},
      "y2": {"datum": 120}}},
    {"data": {"name": "b"}, "mark": {"type": "point", "filled": true, "size": 36, "opacity": 1},
     "encoding": {"x": {"field": "x", "type": "quantitative"}, "y": {"field": "y", "type": "quantitative"},
      "color": {"field": "s", "type": "nominal", "scale": {"domain": ["Zi_msd", "Zi_cal"], "range": ["#3a3a4e", "#f23a3a"]},
        "legend": {"orient": "none", "legendX": 52, "legendY": 42, "title": null, "strokeColor": "#2edb2e", "padding": 4, "labelFont": "Liberation Serif", "labelFontWeight": "bold", "labelFontSize": 10, "labelColor": "#1c1c4c", "symbolSize": 30, "rowPadding": 1, "fillColor": "white", "labelOffset": 7}},
      "shape": {"field": "s", "type": "nominal", "scale": {"domain": ["Zi_msd", "Zi_cal"], "range": ["square", "circle"]},
        "legend": {"orient": "none", "legendX": 52, "legendY": 42, "title": null, "strokeColor": "#2edb2e", "padding": 4, "labelFont": "Liberation Serif", "labelFontWeight": "bold", "labelFontSize": 10, "labelColor": "#1c1c4c", "symbolSize": 30, "rowPadding": 1, "fillColor": "white", "labelOffset": 7}}}},
    {"data": {"values": [{}]}, "mark": {"type": "text", "text": "rMGO-GG/PVA-b1", "font": "Liberation Serif", "fontWeight": "bold", "fontSize": 11, "color": "#1c1c6c", "align": "left", "baseline": "middle"},
     "encoding": {"x": {"datum": -1.66, "type": "quantitative"}, "y": {"datum": 105.1, "type": "quantitative"}}},
    {"data": {"values": [{}]}, "mark": {"type": "text", "text": "b", "font": "Liberation Sans", "fontWeight": "bold", "fontSize": 19, "color": "#1a9fe0", "align": "center", "baseline": "middle"},
     "encoding": {"x": {"datum": -14.2, "type": "quantitative"}, "y": {"datum": 111.8, "type": "quantitative"}}}
   ]},
  {"width": 249, "height": 212,
   "view": {"stroke": "#ff0000", "strokeWidth": 4},
   "layer": [
    {"data": {"values": [{}]}, "mark": {"type": "rect", "fill": "transparent", "stroke": "#000", "strokeWidth": 1.5},
     "encoding": {
      "x": {"datum": -5, "type": "quantitative", "scale": {"domain": [-5, 55], "range": [40.3, 242.7], "nice": false, "zero": false},
            "axis": {"zindex": 1, "orient": "bottom", "offset": -40, "values": [0, 10, 20, 30, 40, 50], "title": "Zr_msd (------)", "titleX": 139.3, "titleY": 27.7}},
      "x2": {"datum": 55},
      "y": {"datum": -5, "type": "quantitative", "scale": {"domain": [-5, 50], "range": [172, 10], "nice": false, "zero": false},
            "axis": {"zindex": 1, "orient": "left", "offset": -40.3, "values": [0, 10, 20, 30, 40, 50], "title": "Zi_msd (------)", "titleX": -23.3, "titleY": 91.5, "titleAlign": "center", "titleAngle": 270}},
      "y2": {"datum": 50}}},
    {"data": {"name": "c"}, "mark": {"type": "point", "filled": true, "size": 36, "opacity": 1},
     "encoding": {"x": {"field": "x", "type": "quantitative"}, "y": {"field": "y", "type": "quantitative"},
      "color": {"field": "s", "type": "nominal", "scale": {"domain": ["Zi_msd", "Zi_cal"], "range": ["#3a3a4e", "#f23a3a"]},
        "legend": {"orient": "none", "legendX": 51, "legendY": 39, "title": null, "strokeColor": "#2edb2e", "padding": 4, "labelFont": "Liberation Serif", "labelFontWeight": "bold", "labelFontSize": 10, "labelColor": "#1c1c4c", "symbolSize": 30, "rowPadding": 1, "fillColor": "white", "labelOffset": 7}},
      "shape": {"field": "s", "type": "nominal", "scale": {"domain": ["Zi_msd", "Zi_cal"], "range": ["square", "circle"]},
        "legend": {"orient": "none", "legendX": 51, "legendY": 39, "title": null, "strokeColor": "#2edb2e", "padding": 4, "labelFont": "Liberation Serif", "labelFontWeight": "bold", "labelFontSize": 10, "labelColor": "#1c1c4c", "symbolSize": 30, "rowPadding": 1, "fillColor": "white", "labelOffset": 7}}}},
    {"data": {"values": [{}]}, "mark": {"type": "text", "text": "rMGO-GG/PVA-b2", "font": "Liberation Serif", "fontWeight": "bold", "fontSize": 11, "color": "#1c1c6c", "align": "left", "baseline": "middle"},
     "encoding": {"x": {"datum": -1.83, "type": "quantitative"}, "y": {"datum": 44.9, "type": "quantitative"}}},
    {"data": {"values": [{}]}, "mark": {"type": "text", "text": "c", "font": "Liberation Sans", "fontWeight": "bold", "fontSize": 19, "color": "#1a9fe0", "align": "center", "baseline": "middle"},
     "encoding": {"x": {"datum": -11.9, "type": "quantitative"}, "y": {"datum": 48, "type": "quantitative"}}}
   ]},
  {"width": 248, "height": 213,
   "view": {"stroke": "#ff0000", "strokeWidth": 4},
   "layer": [
    {"data": {"values": [{}]}, "mark": {"type": "rect", "fill": "transparent", "stroke": "#000", "strokeWidth": 1.5},
     "encoding": {
      "x": {"datum": 2.2, "type": "quantitative", "scale": {"domain": [2.2, 9.8], "range": [34.7, 236.3], "nice": false, "zero": false},
            "axis": {"zindex": 1, "orient": "bottom", "offset": -37.3, "values": [3, 4, 5, 6, 7, 8, 9], "title": "Zr_msd (------)", "titleX": 126.3, "titleY": 25.6}},
      "x2": {"datum": 9.8},
      "y": {"datum": -2.6, "type": "quantitative", "scale": {"domain": [-2.6, 15.2], "range": [175.7, 8], "nice": false, "zero": false},
            "axis": {"zindex": 1, "orient": "left", "offset": -34.7, "values": [0, 10], "title": "Zi_msd (------)", "titleX": -23.4, "titleY": 99.7, "titleAlign": "center", "titleAngle": 270}},
      "y2": {"datum": 15.2}}},
    {"data": {"name": "d"}, "mark": {"type": "point", "filled": true, "size": 36, "opacity": 1},
     "encoding": {"x": {"field": "x", "type": "quantitative"}, "y": {"field": "y", "type": "quantitative"},
      "color": {"field": "s", "type": "nominal", "scale": {"domain": ["Zi_msd", "Zi_cal"], "range": ["#3a3a4e", "#f23a3a"]},
        "legend": {"orient": "none", "legendX": 44, "legendY": 40, "title": null, "strokeColor": "#2edb2e", "padding": 4, "labelFont": "Liberation Serif", "labelFontWeight": "bold", "labelFontSize": 10, "labelColor": "#1c1c4c", "symbolSize": 30, "rowPadding": 1, "fillColor": "white", "labelOffset": 7}},
      "shape": {"field": "s", "type": "nominal", "scale": {"domain": ["Zi_msd", "Zi_cal"], "range": ["square", "circle"]},
        "legend": {"orient": "none", "legendX": 44, "legendY": 40, "title": null, "strokeColor": "#2edb2e", "padding": 4, "labelFont": "Liberation Serif", "labelFontWeight": "bold", "labelFontSize": 10, "labelColor": "#1c1c4c", "symbolSize": 30, "rowPadding": 1, "fillColor": "white", "labelOffset": 7}}}},
    {"data": {"values": [{}]}, "mark": {"type": "text", "text": "rMGO-GG/PVA-b3", "font": "Liberation Serif", "fontWeight": "bold", "fontSize": 11, "color": "#1c1c6c", "align": "left", "baseline": "middle"},
     "encoding": {"x": {"datum": 2.51, "type": "quantitative"}, "y": {"datum": 13.29, "type": "quantitative"}}},
    {"data": {"values": [{}]}, "mark": {"type": "text", "text": "d", "font": "Liberation Sans", "fontWeight": "bold", "fontSize": 19, "color": "#1a9fe0", "align": "center", "baseline": "middle"},
     "encoding": {"x": {"datum": 1.57, "type": "quantitative"}, "y": {"datum": 13.93, "type": "quantitative"}}}
   ]},
  {"width": 245, "height": 213,
   "view": {"stroke": "#ff0000", "strokeWidth": 4},
   "layer": [
    {"data": {"values": [{}]}, "mark": {"type": "rect", "fill": "transparent", "stroke": "#000", "strokeWidth": 1.5},
     "encoding": {
      "x": {"datum": 0.01, "type": "quantitative", "scale": {"type": "log", "domain": [0.01, 100000], "range": [42.3, 235.3], "nice": false, "zero": false},
            "axis": {"zindex": 1, "orient": "bottom", "offset": -38.3, "values": [0.01, 0.1, 1, 10, 100, 1000, 10000, 100000], "labelExpr": "'10' + replace(replace(replace(replace(replace(replace(replace(''+round(log(datum.value)/LN10),'-','⁻'),'0','⁰'),'1','¹'),'2','²'),'3','³'),'4','⁴'),'5','⁵')", "title": "log f (Hz)", "titleX": 137, "titleY": 29}},
      "x2": {"datum": 100000},
      "y": {"datum": 0.01, "type": "quantitative", "scale": {"type": "log", "domain": [0.01, 500], "range": [174.7, 4.7], "nice": false, "zero": false},
            "axis": {"zindex": 1, "orient": "left", "offset": -42.3, "values": [0.01, 0.1, 1, 10, 100], "labelExpr": "'10' + replace(replace(replace(replace(replace(replace(replace(''+round(log(datum.value)/LN10),'-','⁻'),'0','⁰'),'1','¹'),'2','²'),'3','³'),'4','⁴'),'5','⁵')", "title": "log Z (ohm)", "titleX": -32.6, "titleY": 76.3, "titleAlign": "center", "titleAngle": 270}},
      "y2": {"datum": 500}}},
    {"data": {"name": "e"}, "mark": {"type": "point", "filled": true, "size": 14, "opacity": 1},
     "encoding": {"x": {"field": "x", "type": "quantitative"}, "y": {"field": "y", "type": "quantitative"},
      "color": {"field": "s", "type": "nominal", "scale": {"domain": ["b3", "b2", "b1"], "range": ["#3a3a3a", "#f03030", "#2070e0"]},
        "legend": {"orient": "none", "legendX": 43, "legendY": 131, "title": null, "strokeColor": "#444444", "padding": 4, "labelFont": "Liberation Serif", "labelFontWeight": "bold", "labelFontSize": 11, "labelColor": "#111111", "symbolSize": 20, "rowPadding": 1, "fillColor": "white", "labelOffset": 8, "labelExpr": "'rMGO-GG/PVA-' + datum.label"}},
      "shape": {"field": "s", "type": "nominal", "scale": {"domain": ["b3", "b2", "b1"], "range": ["square", "circle", "triangle-up"]},
        "legend": {"orient": "none", "legendX": 43, "legendY": 131, "title": null, "strokeColor": "#444444", "padding": 4, "labelFont": "Liberation Serif", "labelFontWeight": "bold", "labelFontSize": 11, "labelColor": "#111111", "symbolSize": 20, "rowPadding": 1, "fillColor": "white", "labelOffset": 8, "labelExpr": "'rMGO-GG/PVA-' + datum.label"}}}},
    {"data": {"values": [{}]}, "mark": {"type": "text", "text": "e", "font": "Liberation Sans", "fontWeight": "bold", "fontSize": 19, "color": "#1a9fe0", "align": "center", "baseline": "middle"},
     "encoding": {"x": {"datum": 0.000865, "type": "quantitative"}, "y": {"datum": 214, "type": "quantitative"}}}
   ]},
  {"width": 249, "height": 213,
   "view": {"stroke": "#ff0000", "strokeWidth": 4},
   "layer": [
    {"data": {"values": [{}]}, "mark": {"type": "rect", "fill": "transparent", "stroke": "#000", "strokeWidth": 1.5},
     "encoding": {
      "x": {"datum": 0, "type": "quantitative", "scale": {"domain": [0, 1300], "range": [49.3, 241], "nice": false, "zero": false},
            "axis": {"zindex": 1, "orient": "bottom", "offset": -40.7, "values": [0, 200, 400, 600, 800, 1000, 1200], "format": "d", "title": "Number of cycles", "titleX": 144.3, "titleY": 30}},
      "x2": {"datum": 1300},
      "y": {"datum": 0, "type": "quantitative", "scale": {"domain": [0, 130], "range": [172.3, 7.3], "nice": false, "zero": false},
            "axis": {"zindex": 1, "orient": "left", "offset": -49.3, "values": [0, 20, 40, 60, 80, 100, 120], "title": "Specific capacitance(F/g)", "titleX": -27.6, "titleY": 91.5, "titleAlign": "center", "titleAngle": 270, "titleFontSize": 13}},
      "y2": {"datum": 130}}},
    {"data": {"name": "f"}, "mark": {"type": "point", "filled": true, "size": 22, "opacity": 1},
     "encoding": {"x": {"field": "x", "type": "quantitative"}, "y": {"field": "y", "type": "quantitative"},
      "color": {"field": "s", "type": "nominal", "scale": {"domain": ["b2", "b3", "b1"], "range": ["#f42c2c", "#12207a", "#1a1a28"]},
        "legend": {"orient": "none", "legendX": 147, "legendY": 56, "title": null, "strokeColor": "#bbbbbb", "padding": 3, "labelFont": "Liberation Serif", "labelFontWeight": "bold", "labelFontSize": 9.5, "labelColor": "#1a1a4a", "symbolSize": 20, "rowPadding": 1, "fillColor": "white", "labelOffset": 6, "labelExpr": "'rMGO-GG/PVA-' + datum.label"}},
      "shape": {"field": "s", "type": "nominal", "scale": {"domain": ["b2", "b3", "b1"], "range": ["square", "circle", "triangle-up"]},
        "legend": {"orient": "none", "legendX": 147, "legendY": 56, "title": null, "strokeColor": "#bbbbbb", "padding": 3, "labelFont": "Liberation Serif", "labelFontWeight": "bold", "labelFontSize": 9.5, "labelColor": "#1a1a4a", "symbolSize": 20, "rowPadding": 1, "fillColor": "white", "labelOffset": 6, "labelExpr": "'rMGO-GG/PVA-' + datum.label"}}}},
    {"data": {"values": [{}]}, "mark": {"type": "text", "text": "f", "font": "Liberation Sans", "fontWeight": "bold", "fontSize": 19, "color": "#1a9fe0", "align": "center", "baseline": "middle"},
     "encoding": {"x": {"datum": -283, "type": "quantitative"}, "y": {"datum": 125.5, "type": "quantitative"}}}
   ]},
  {"width": 248, "height": 212, "data": {"values": []}, "mark": "point"},
  {"width": 247, "height": 212,
   "view": {"stroke": "#ff0000", "strokeWidth": 4},
   "resolve": {"scale": {"x": "independent", "y": "independent"}},
   "layer": [
    {"layer": [
      {"data": {"values": [{}]}, "mark": {"type": "rect", "fill": "transparent", "stroke": "#000", "strokeWidth": 1.5},
       "encoding": {
        "x": {"datum": -105, "type": "quantitative", "scale": {"domain": [-105, 1265], "range": [41.3, 236.3], "nice": false, "zero": false},
              "axis": {"zindex": 1, "orient": "bottom", "offset": -40.7, "values": [0, 200, 400, 600, 800, 1000, 1200], "format": "d", "title": "Number of cycles", "titleX": 141.3, "titleY": 29}},
        "x2": {"datum": 1265},
        "y": {"datum": 0, "type": "quantitative", "scale": {"domain": [0, 120.5], "range": [171.3, 8], "nice": false, "zero": false},
              "axis": {"zindex": 1, "orient": "left", "offset": -41.3, "values": [0, 20, 40, 60, 80, 100, 120], "title": "Capacitance retention%", "titleX": -30, "titleY": 85, "titleAlign": "center", "titleAngle": 270}},
        "y2": {"datum": 120.5}}},
      {"data": {"name": "g"}, "mark": {"type": "point", "filled": true, "size": 40, "opacity": 1, "shape": "diamond", "color": "#ff1a1a"},
       "encoding": {"x": {"field": "x", "type": "quantitative"}, "y": {"field": "y", "type": "quantitative"}}},
      {"data": {"values": [{}]}, "mark": {"type": "text", "text": "g", "font": "Liberation Sans", "fontWeight": "bold", "fontSize": 15, "color": "#1a9fe0", "align": "center", "baseline": "middle", "angle": 270},
       "encoding": {"x": {"datum": -318, "type": "quantitative"}, "y": {"datum": 121.2, "type": "quantitative"}}}
    ]},
    {"layer": [
      {"data": {"values": [{}]}, "mark": {"type": "rect", "fill": "#e6e6e6"},
       "encoding": {
        "x": {"datum": -191, "type": "quantitative", "scale": {"domain": [-90, 1126], "range": [68, 225], "nice": false, "zero": false},
              "axis": {"zindex": 1, "orient": "bottom", "offset": -72, "values": [0, 200, 400, 600, 800, 1000], "format": "d", "domainColor": "#888888", "domainWidth": 0.8, "tickColor": "#888888", "tickSize": 2, "tickWidth": 0.6, "labelFont": "Liberation Sans", "labelFontWeight": "normal", "labelFontSize": 4.5, "labelColor": "#555555", "labelPadding": 1, "title": "Time (s)", "titleFont": "Liberation Sans", "titleFontWeight": "normal", "titleFontSize": 4.5, "titleColor": "#555555", "titleX": 159.7, "titleY": 16}},
        "x2": {"datum": 1126},
        "y": {"datum": -0.92, "type": "quantitative", "scale": {"domain": [-0.55, 0.61], "range": [140, 62], "nice": false, "zero": false},
              "axis": {"zindex": 1, "orient": "left", "offset": -68, "values": [-0.4, -0.2, 0, 0.2, 0.4, 0.6], "format": ".1f", "domainColor": "#888888", "domainWidth": 0.8, "tickColor": "#888888", "tickSize": 2, "tickWidth": 0.6, "labelFont": "Liberation Sans", "labelFontWeight": "normal", "labelFontSize": 4.5, "labelColor": "#555555", "labelPadding": 1, "title": "Working Electrode Potential (V)", "titleFont": "Liberation Sans", "titleFontWeight": "normal", "titleFontSize": 4, "titleColor": "#555555", "titleX": -11.7, "titleY": 98.7, "titleAlign": "center", "titleAngle": 270}},
        "y2": {"datum": 0.714}}},
      {"data": {"values": [{}]}, "mark": {"type": "rect", "fill": "#f3f3f3"},
       "encoding": {"x": {"datum": -90, "type": "quantitative"}, "x2": {"datum": 1126}, "y": {"datum": -0.55, "type": "quantitative"}, "y2": {"datum": 0.61}}},
      {"data": {"values": [{}]}, "mark": {"type": "rule", "color": "#aaaaaa", "strokeWidth": 0.8},
       "encoding": {"x": {"datum": -90, "type": "quantitative"}, "x2": {"datum": 1126}, "y": {"datum": 0.6, "type": "quantitative"}}},
      {"data": {"name": "g_ins"}, "mark": {"type": "line", "color": "#3a8ad6", "strokeWidth": 1.4},
       "encoding": {"x": {"field": "x", "type": "quantitative"}, "y": {"field": "y", "type": "quantitative"}, "detail": {"field": "k"}}},
      {"data": {"name": "g_stray"}, "mark": {"type": "point", "filled": true, "size": 4, "color": "#3a8ad6", "opacity": 1},
       "encoding": {"x": {"field": "x", "type": "quantitative"}, "y": {"field": "y", "type": "quantitative"}}}
    ]}
   ]}
]
}
